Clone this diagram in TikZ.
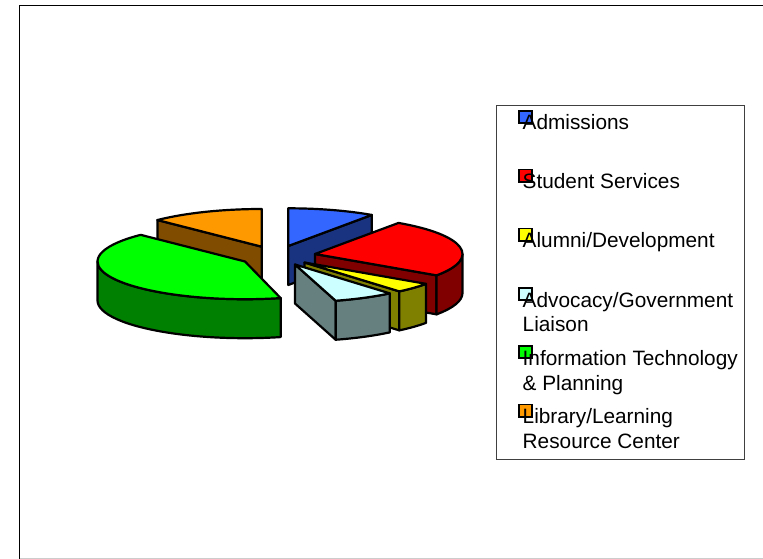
\documentclass[tikz,border=0pt]{standalone}
\usepackage{fontspec}
\setmainfont{Liberation Sans}
\definecolor{bluetop}{RGB}{51,102,255}
\definecolor{blueside}{RGB}{26,51,128}
\definecolor{redtop}{RGB}{255,0,0}
\definecolor{redside}{RGB}{128,0,0}
\definecolor{yeltop}{RGB}{255,255,0}
\definecolor{yelside}{RGB}{128,128,0}
\definecolor{cyantop}{RGB}{204,255,255}
\definecolor{cyanside}{RGB}{102,128,128}
\definecolor{greentop}{RGB}{0,255,0}
\definecolor{greenside}{RGB}{0,128,0}
\definecolor{orangetop}{RGB}{255,153,0}
\definecolor{orangeside}{RGB}{128,76,0}
\tikzset{
  face/.style={draw=black, line width=2.2pt, line join=round},
  ell/.style={x radius=147.5pt, y radius=37.7pt},
  legtext/.style={anchor=base west, inner sep=0pt, font=\fontsize{20.8}{24}\selectfont},
  legmark/.style={draw=black, line width=1.9pt},
}
\begin{document}
\begin{tikzpicture}[x=1pt,y=1pt]
\useasboundingbox (0,0) rectangle (763,-559);
% outer frame
\draw[black, line width=1.4pt] (19.5,-559) -- (19.5,-5.5) -- (763,-5.5);
\draw[black!20, line width=1pt] (19.5,-558.4) -- (763,-558.4);

% ---- pie ----
% Admissions (blue)
\coordinate (B) at (288.3,-246);
\filldraw[face, fill=blueside] (B) -- ++(55.5:147.5pt and 37.7pt) -- ++(0,-39) -- ([yshift=-39pt]B) -- cycle;
\filldraw[face, fill=bluetop] (B) -- ++(90:147.5pt and 37.7pt) arc[ell, start angle=90, end angle=55.5] -- cycle;
% Library (orange)
\coordinate (O) at (261.7,-246.7);
\filldraw[face, fill=orangeside] (O) -- ++(135:147.5pt and 37.7pt) -- ++(0,-39) -- ([yshift=-39pt]O) -- cycle;
\filldraw[face, fill=orangetop] (O) -- ++(135:147.5pt and 37.7pt) arc[ell, start angle=135, end angle=90] -- cycle;
% Student Services (red)
\coordinate (R) at (315,-254);
\filldraw[face, fill=redside] (R) -- ++(-34.5:147.5pt and 37.7pt) -- ++(0,-39) -- ([yshift=-39pt]R) -- cycle;
\filldraw[face, fill=redside] (R) ++(0:147.5pt and 37.7pt) arc[ell, start angle=0, end angle=-34.5] -- ++(0,-39) arc[ell, start angle=-34.5, end angle=0] -- cycle;
\filldraw[face, fill=redtop] (R) -- ++(55.5:147.5pt and 37.7pt) arc[ell, start angle=55.5, end angle=-34.5] -- cycle;
% Information Technology (green)
\coordinate (G) at (245,-261.5);
\filldraw[face, fill=greenside] (G) ++(-76:147.5pt and 37.7pt) arc[ell, start angle=-76, end angle=-180] -- ++(0,-39) arc[ell, start angle=-180, end angle=-76] -- cycle;
\filldraw[face, fill=greentop] (G) -- ++(-76:147.5pt and 37.7pt) arc[ell, start angle=-76, end angle=-225] -- cycle;
% Alumni (yellow)
\coordinate (Y) at (304.5,-262.5);
\filldraw[face, fill=yelside] (Y) -- ++(-50:147.5pt and 37.7pt) -- ++(0,-39) -- ([yshift=-39pt]Y) -- cycle;
\filldraw[face, fill=yelside] (Y) ++(-34.5:147.5pt and 37.7pt) arc[ell, start angle=-34.5, end angle=-50] -- ++(0,-39) arc[ell, start angle=-50, end angle=-34.5] -- cycle;
\filldraw[face, fill=yeltop] (Y) -- ++(-34.5:147.5pt and 37.7pt) arc[ell, start angle=-34.5, end angle=-50] -- cycle;
% Advocacy (light cyan)
\coordinate (C) at (295,-264.5);
\filldraw[face, fill=cyanside] (C) -- ++(-74:147.5pt and 37.7pt) -- ++(0,-39) -- ([yshift=-39pt]C) -- cycle;
\filldraw[face, fill=cyanside] (C) ++(-50:147.5pt and 37.7pt) arc[ell, start angle=-50, end angle=-74] -- ++(0,-39) arc[ell, start angle=-74, end angle=-50] -- cycle;
\filldraw[face, fill=cyantop] (C) -- ++(-50:147.5pt and 37.7pt) arc[ell, start angle=-50, end angle=-74] -- cycle;

% ---- legend ----
\draw[black!75, line width=0.9pt] (496,-105.7) rectangle (744.3,-459);
\filldraw[legmark, fill=bluetop]   (519,-111) rectangle (531.6,-123.4);
\filldraw[legmark, fill=redtop]    (519,-169.5) rectangle (531.6,-181.9);
\filldraw[legmark, fill=yeltop]    (519,-228.5) rectangle (531.6,-240.9);
\filldraw[legmark, fill=cyantop]   (519,-288) rectangle (531.6,-300.4);
\filldraw[legmark, fill=greentop]  (519,-346) rectangle (531.6,-358.4);
\filldraw[legmark, fill=orangetop] (519,-404.5) rectangle (531.6,-416.9);
\node[legtext] (l1)  at (522.5,-130)   {Admissions};
\node[legtext] (l2)  at (522.5,-188.5) {Student Services};
\node[legtext] (l3)  at (522.5,-247.5) {Alumni/Development};
\node[legtext] (l4a) at (522.5,-307)   {Advocacy/Government};
\node[legtext] (l4b) at (522.5,-331.5) {Liaison};
\node[legtext] (l5a) at (522.5,-365)   {Information Technology};
\node[legtext] (l5b) at (522.5,-390)   {\& Planning};
\node[legtext] (l6a) at (522.5,-423.5) {Library/Learning};
\node[legtext] (l6b) at (522.5,-448.5) {Resource Center};
\end{tikzpicture}
\end{document}
